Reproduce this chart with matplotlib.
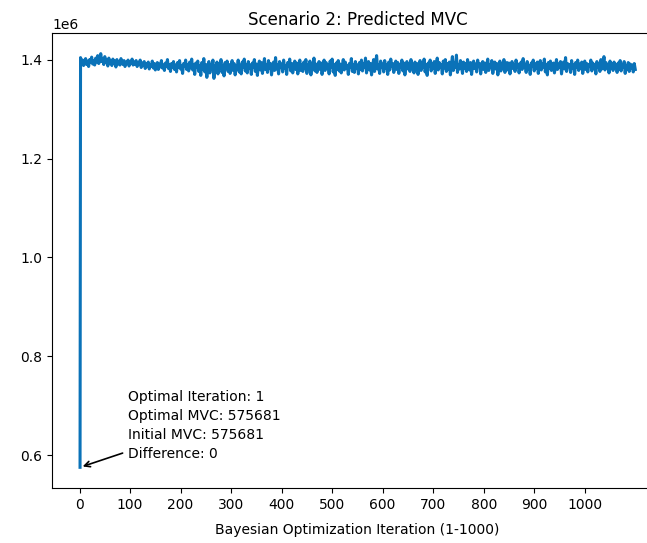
import numpy as np
import matplotlib
matplotlib.use("Agg")
import matplotlib.pyplot as plt

# predicted MVC, first iteration (initial design)
initial_mvc = 575681
optimal_iteration = 1

# predicted MVC for iterations 2, 4, ..., 1100 (thousands)
mvc_k = [
    1404, 1393, 1399, 1388, 1396, 1402, 1390, 1397, 1386, 1400,
    1394, 1405, 1391, 1398, 1389, 1403, 1395, 1408, 1392, 1399,
    1412, 1396, 1401, 1390, 1406, 1394, 1399, 1387, 1403, 1392,
    1398, 1388, 1401, 1393, 1397, 1385, 1400, 1391, 1396, 1389,
    1402, 1394, 1390, 1398, 1386, 1395, 1392, 1399, 1387, 1396,
    1393, 1401, 1389, 1395, 1390,
    1398, 1386, 1394, 1390, 1399, 1384, 1393, 1388, 1396, 1382,
    1391, 1387, 1395, 1381, 1390, 1386, 1397, 1383, 1392, 1379,
    1388, 1394, 1380, 1391, 1385, 1398, 1383, 1389, 1378, 1393,
    1386, 1400, 1382, 1390, 1376, 1392, 1385, 1396, 1380, 1389,
    1375, 1394, 1384, 1398, 1381, 1387, 1372, 1392, 1386, 1399,
    1380, 1390, 1377, 1395, 1383,
    1401, 1379, 1389, 1370, 1393, 1384, 1397, 1376, 1388, 1368,
    1394, 1381, 1402, 1375, 1390, 1364, 1386, 1396, 1373, 1389,
    1380, 1399, 1362, 1387, 1377, 1395, 1371, 1391, 1383, 1400,
    1374, 1388, 1367, 1394, 1382, 1397, 1376, 1390, 1372, 1386,
    1398, 1378, 1392, 1369, 1387, 1381, 1399, 1375, 1389, 1371,
    1395, 1384, 1401, 1377, 1390,
    1373, 1396, 1382, 1389, 1370, 1393, 1385, 1400, 1376, 1391,
    1368, 1388, 1397, 1379, 1394, 1372, 1386, 1402, 1380, 1390,
    1374, 1398, 1383, 1392, 1369, 1387, 1395, 1378, 1404, 1381,
    1389, 1371, 1396, 1384, 1391, 1375, 1399, 1382, 1388, 1370,
    1394, 1386, 1401, 1377, 1392, 1373, 1389, 1397, 1380, 1393,
    1371, 1386, 1399, 1378, 1390,
    1376, 1395, 1383, 1400, 1372, 1389, 1381, 1397, 1369, 1392,
    1385, 1403, 1377, 1391, 1374, 1388, 1396, 1380, 1393, 1370,
    1387, 1399, 1378, 1394, 1382, 1390, 1371, 1397, 1384, 1401,
    1375, 1389, 1368, 1393, 1381, 1398, 1377, 1391, 1373, 1386,
    1400, 1379, 1395, 1383, 1388, 1370, 1392, 1385, 1402, 1376,
    1390, 1374, 1396, 1382, 1389,
    1371, 1394, 1380, 1399, 1377, 1391, 1384, 1403, 1373, 1388,
    1396, 1379, 1392, 1369, 1386, 1400, 1376, 1393, 1408, 1381,
    1390, 1372, 1397, 1385, 1391, 1375, 1398, 1383, 1389, 1370,
    1395, 1379, 1401, 1386, 1392, 1374, 1388, 1397, 1380, 1394,
    1372, 1390, 1384, 1399, 1377, 1393, 1369, 1387, 1396, 1381,
    1391, 1376, 1400, 1383, 1388,
    1373, 1395, 1381, 1392, 1370, 1389, 1398, 1378, 1394, 1384,
    1401, 1375, 1390, 1368, 1393, 1386, 1399, 1377, 1391, 1382,
    1396, 1372, 1388, 1403, 1379, 1394, 1385, 1390, 1371, 1397,
    1383, 1400, 1376, 1392, 1380, 1395, 1369, 1389, 1406, 1378,
    1393, 1384, 1409, 1374, 1390, 1381, 1398, 1387, 1372, 1395,
    1383, 1392, 1376, 1400, 1385,
    1379, 1394, 1370, 1388, 1397, 1382, 1391, 1375, 1399, 1386,
    1392, 1371, 1389, 1396, 1380, 1393, 1374, 1387, 1401, 1378,
    1390, 1384, 1398, 1372, 1388, 1395, 1381, 1392, 1369, 1386,
    1397, 1377, 1391, 1383, 1400, 1374, 1389, 1394, 1379, 1393,
    1371, 1387, 1396, 1382, 1390, 1376, 1399, 1385, 1391, 1373,
    1388, 1395, 1380, 1402, 1384,
    1390, 1374, 1396, 1381, 1388, 1370, 1393, 1386, 1399, 1377,
    1391, 1383, 1395, 1372, 1389, 1398, 1379, 1392, 1385, 1401,
    1375, 1390, 1369, 1394, 1382, 1397, 1378, 1388, 1393, 1373,
    1387, 1400, 1380, 1391, 1384, 1396, 1371, 1389, 1395, 1381,
    1404, 1376, 1392, 1386, 1390, 1374, 1398, 1383, 1389, 1370,
    1394, 1385, 1399, 1378, 1391,
    1382, 1395, 1372, 1388, 1397, 1380, 1392, 1375, 1390, 1386,
    1399, 1377, 1393, 1383, 1389, 1371, 1396, 1384, 1391, 1376,
    1400, 1381, 1388, 1406, 1379, 1394, 1385, 1390, 1373, 1397,
    1382, 1392, 1378, 1395, 1386, 1389, 1374, 1393, 1381, 1398,
    1377, 1390, 1384, 1396, 1372, 1388, 1380, 1394, 1376, 1391,
    1383, 1389, 1375, 1392, 1380,
]

iterations = np.concatenate([[1], np.arange(2, 2 * len(mvc_k) + 1, 2)])
mvc = np.concatenate([[initial_mvc], np.array(mvc_k) * 1000.0])

fig = plt.figure(figsize=(6.47, 5.43), dpi=100)
# original figure was cropped on the right, so the axes run past the edge
ax = fig.add_axes([0.0808, 0.1013, 0.944, 0.838])

ax.plot(iterations, mvc, color="#0a72b8", lw=2.2)
ax.set_xticks(range(0, 1001, 100))
ax.set_title("Scenario 2: Predicted MVC", fontsize=12)
ax.set_xlabel("Bayesian Optimization Iteration (1-1000)", labelpad=8)

note = (f"Optimal Iteration: {optimal_iteration}\n"
        f"Optimal MVC: {initial_mvc}\n"
        f"Initial MVC: {initial_mvc}\n"
        f"Difference: {initial_mvc - initial_mvc}")
ax.annotate(note, xy=(optimal_iteration, initial_mvc), xytext=(96, 588000),
            ha="left", va="bottom", fontsize=10, linespacing=1.45,
            arrowprops=dict(arrowstyle="->", color="black", lw=1.2))

fig.savefig("out.png", dpi=100)
